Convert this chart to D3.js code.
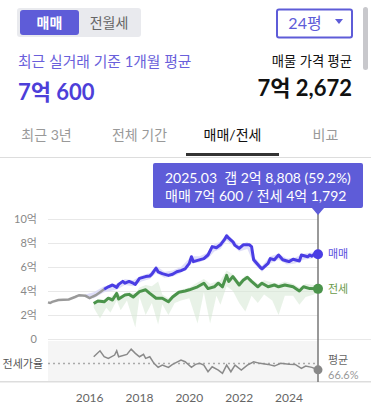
<!DOCTYPE html>
<html>
<head>
<meta charset="utf-8">
<script src="https://cdn.jsdelivr.net/npm/d3@7"></script>
<style>
body { margin: 0; background: #fff; }
svg { display: block; font-family: Lato, 'Noto Sans CJK KR', sans-serif; }
</style>
</head>
<body>
<div id="chart"></div>
<script>
// 매매 (sale) price, 억 원
var saleMonths = ["2016-08","2016-10","2016-12","2017-02","2017-03","2017-05","2017-06","2017-08","2017-10","2017-11",
	"2018-01","2018-04","2018-06","2018-07","2018-09","2018-10","2018-12","2019-03","2019-05","2019-07",
	"2019-09","2019-11","2020-01","2020-02","2020-03","2020-05","2020-08","2020-10","2020-12","2021-02",
	"2021-04","2021-06","2021-07","2021-08","2021-10","2021-11","2022-01","2022-03","2022-06","2022-07",
	"2022-08","2022-10","2022-11","2022-12","2023-03","2023-04","2023-06","2023-08","2023-10","2023-12",
	"2024-01","2024-03","2024-06","2024-07","2024-10","2024-11","2024-12","2025-01","2025-03"];
var saleValues = [4.15,4.35,4.5,4.3,4.55,4.8,4.65,4.8,4.65,4.55,
	5.05,5.2,5.25,5.4,5.9,5.6,5.45,5.3,5.4,5.6,
	5.7,5.85,6.3,6.85,6.45,6.55,6.7,7.0,7.7,7.6,
	7.85,8.3,8.6,8.4,8.1,7.8,7.55,7.85,7.85,7.7,
	6.6,6.2,6.0,5.85,6.3,6.7,6.6,7.0,6.6,6.5,
	6.45,6.65,6.5,7.0,6.85,7.0,6.9,7.05,7.06];

// earlier sale price (gray part)
var oldMonths = ["2014-05","2014-06","2014-07","2014-10","2015-03","2015-06","2015-08","2015-11","2016-01","2016-04","2016-06","2016-08"];
var oldValues = [3.05,3.0,3.1,3.25,3.3,3.5,3.65,3.6,3.4,3.65,3.9,4.15];

// 전세 (jeonse) price
var rentMonths = ["2016-03","2016-05","2016-08","2016-10","2016-12","2017-02","2017-03","2017-06","2017-08","2017-10",
	"2018-01","2018-04","2018-06","2018-09","2018-12","2019-03","2019-05","2019-08","2019-11","2020-01",
	"2020-05","2020-08","2020-10","2021-01","2021-03","2021-05","2021-07","2021-08","2021-10","2022-01",
	"2022-03","2022-05","2022-07","2022-10","2022-12","2023-03","2023-06","2023-08","2023-11","2024-03",
	"2024-06","2024-08","2024-11","2025-03"];
var rentValues = [2.95,3.17,3.1,3.4,3.25,3.8,3.33,3.67,3.72,3.5,
	3.95,4.1,3.8,3.4,3.4,3.1,3.5,3.9,4.0,4.1,
	4.35,4.65,4.2,4.35,4.65,4.35,5.3,4.8,5.2,4.5,
	4.9,5.15,4.8,4.35,4.65,4.35,4.5,4.35,4.5,4.35,
	4.0,4.35,4.2,4.18];

// 매매 range band
var saleBandMonths = ["2015-11","2016-03","2016-08","2017-02","2017-06","2017-10","2018-02","2018-06","2018-09","2019-01",
	"2019-05","2019-09","2020-02","2020-06","2020-10","2021-01","2021-04","2021-07","2021-10","2022-01",
	"2022-05","2022-08","2022-12","2023-04","2023-08","2023-12","2024-04","2024-08","2024-12","2025-03"];
var saleBandLo = [3.5,3.4,3.9,4.1,4.5,4.4,4.8,5.0,5.5,5.1,5.2,5.5,6.3,6.4,6.7,7.3,7.5,8.2,7.8,7.3,7.5,6.3,5.6,6.3,6.6,6.2,6.3,6.6,6.7,6.85];
var saleBandHi = [3.7,3.9,4.4,4.6,5.0,4.9,5.3,5.5,6.1,5.6,5.7,6.0,6.9,6.9,7.2,7.9,8.1,8.8,8.3,7.8,8.1,6.9,6.1,6.9,7.1,6.7,6.8,7.1,7.2,7.25];

// 전세 range band
var rentBandMonths = ["2016-03","2016-06","2016-09","2016-11","2017-02","2017-04","2017-07","2017-11","2018-01","2018-04",
	"2018-07","2018-10","2018-12","2019-03","2019-06","2019-09","2020-01","2020-05","2020-08","2020-11",
	"2021-02","2021-04","2021-07","2021-10","2022-01","2022-04","2022-07","2022-10","2023-01","2023-05",
	"2023-08","2023-11","2024-03","2024-06","2024-09","2025-01","2025-03"];
var rentBandLo = [2.6,1.7,2.6,2.2,3.2,2.4,3.2,0.95,3.5,2.0,3.0,1.2,2.9,2.0,3.0,3.2,3.4,1.3,3.9,1.3,3.6,2.85,4.4,4.0,3.0,2.3,3.6,3.0,3.7,3.2,2.0,3.6,3.6,2.85,3.5,3.7,3.9];
var rentBandHi = [3.1,3.3,3.3,3.5,3.9,3.6,3.9,3.8,4.3,4.5,4.4,4.8,3.7,3.4,3.8,4.1,4.3,4.7,5.0,4.6,4.8,4.9,5.7,5.4,4.8,5.3,5.0,4.6,4.9,4.7,4.6,4.8,4.6,4.3,4.6,4.5,4.4];

// 전세가율 (%)
var rateMonths = ["2016-03","2016-06","2016-08","2016-10","2017-01","2017-02","2017-03","2017-07","2017-09","2017-11",
	"2018-01","2018-03","2018-04","2018-06","2018-08","2018-10","2018-12","2019-03","2019-05","2019-09",
	"2019-11","2020-02","2020-04","2020-06","2020-08","2020-10","2020-12","2021-03","2021-05","2021-07",
	"2021-09","2021-11","2022-02","2022-05","2022-08","2022-11","2023-03","2023-06","2023-09","2024-01",
	"2024-04","2024-07","2024-09","2024-12","2025-03"];
var rateValues = [74.6,81.6,74.6,72.7,76.6,81.6,74.6,77.4,83.6,78.6,
	74.6,77.4,72.7,74.6,66.8,62.1,64.8,62.1,65.6,70.7,
	68.7,62.1,65.6,66.8,64.8,56.9,62.8,58.9,55.1,64.8,
	56.9,64.8,58.9,64.8,68.7,66.8,65.6,63.6,66.8,65.8,
	65.6,60.9,63.6,62.1,59.2];
var rateAvg = 66.6;

var yTicks = [0, 2, 4, 6, 8, 10];
var xTicks = ["2016-01","2018-01","2020-01","2022-01","2024-01"];

var W = 371, H = 405;
var purple = "#5e5cd8";
var parse = d3.timeParse("%Y-%m");

var svg = d3.select('#chart').append('svg')
	.attr('width', W)
	.attr('height', H);

// ---- header ----
svg.append('rect').attr('x', 17).attr('y', 8).attr('width', 124).attr('height', 29).attr('rx', 3).attr('fill', '#e9eaee');
svg.append('rect').attr('x', 20).attr('y', 10).attr('width', 59).attr('height', 25).attr('rx', 3).attr('fill', purple);
svg.append('text').attr('x', 49.5).attr('y', 28).attr('text-anchor', 'middle').attr('fill', '#fff')
	.attr('font-size', 14).attr('font-weight', 'bold').text('매매');
svg.append('text').attr('x', 109).attr('y', 28).attr('text-anchor', 'middle').attr('fill', '#666')
	.attr('font-size', 14).text('전월세');

svg.append('rect').attr('x', 277).attr('y', 9.5).attr('width', 75).attr('height', 28).attr('rx', 2)
	.attr('fill', '#fff').attr('stroke', purple).attr('stroke-width', 2);
svg.append('text').attr('x', 305).attr('y', 29).attr('text-anchor', 'middle').attr('fill', purple)
	.attr('font-size', 16).text('24평');
svg.append('path').attr('d', 'M335,19L343,19L339,24Z').attr('fill', purple);

svg.append('rect').attr('x', 363).attr('y', 7).attr('width', 5).attr('height', 63).attr('rx', 2.5).attr('fill', '#c8c8cc');

svg.append('text').attr('x', 18).attr('y', 67).attr('fill', '#6a5fdb').attr('font-size', 14.8).text('최근 실거래 기준 1개월 평균');
svg.append('text').attr('x', 18).attr('y', 100).attr('fill', '#4d3fd9').attr('font-size', 22).attr('font-weight', 'bold').text('7억 600');
svg.append('text').attr('x', 352).attr('y', 66).attr('text-anchor', 'end').attr('fill', '#111').attr('font-size', 13.3).text('매물 가격 평균');
svg.append('text').attr('x', 352).attr('y', 96).attr('text-anchor', 'end').attr('fill', '#111').attr('font-size', 22).attr('font-weight', 'bold').text('7억 2,672');

// tabs
var tabs = ['최근 3년', '전체 기간', '매매/전세', '비교'];
svg.selectAll('.tab')
	.data(tabs)
	.enter()
	.append('text')
	.attr('class', 'tab')
	.attr('x', function(d, i){ return i * 93 + 46.5; })
	.attr('y', 140)
	.attr('text-anchor', 'middle')
	.attr('font-size', 14)
	.attr('fill', function(d, i){ return i === 2 ? '#111' : '#999'; })
	.text(function(d){ return d; });
svg.append('rect').attr('x', 0).attr('y', 157).attr('width', W).attr('height', 1).attr('fill', '#ddd');
svg.append('rect').attr('x', 186).attr('y', 153).attr('width', 93).attr('height', 3).attr('fill', '#333');

// ---- main chart ----
var x = d3.scaleTime()
	.domain([parse("2014-05"), parse("2025-03")])
	.range([48, 318]);
var y = d3.scaleLinear()
	.domain([0, 10])
	.range([339, 219]);

function pairs(months, vals) {
	return months.map(function(m, i){ return { date: parse(m), v: vals[i] }; });
}
function bands(months, lo, hi) {
	return months.map(function(m, i){ return { date: parse(m), lo: lo[i], hi: hi[i] }; });
}

var yAxis = svg.append('g')
	.attr('transform', 'translate(48,0)')
	.call(d3.axisLeft(y).tickValues(yTicks).tickSize(-270)
		.tickFormat(function(d){ return d === 0 ? '0' : d + '억'; }));
yAxis.select('.domain').remove();
yAxis.selectAll('line').attr('stroke', '#e8e8e8');
yAxis.selectAll('text').attr('x', -11).attr('fill', '#888').attr('font-size', 11)
	.attr('font-family', "Lato, 'Noto Sans CJK KR', sans-serif");

var area = d3.area()
	.x(function(d){ return x(d.date); })
	.y0(function(d){ return y(d.lo); })
	.y1(function(d){ return y(d.hi); });
var line = d3.line()
	.x(function(d){ return x(d.date); })
	.y(function(d){ return y(d.v); });

svg.append('path').datum(bands(rentBandMonths, rentBandLo, rentBandHi))
	.attr('d', area).attr('fill', '#d5e8d3').attr('opacity', 0.55);
svg.append('path').datum(bands(saleBandMonths, saleBandLo, saleBandHi))
	.attr('d', area).attr('fill', '#dcdaf8').attr('opacity', 0.9);

svg.append('path').datum(pairs(oldMonths, oldValues))
	.attr('d', line).attr('fill', 'none').attr('stroke', '#9a9a9a').attr('stroke-width', 2.5);
svg.append('path').datum(pairs(rentMonths, rentValues))
	.attr('d', line).attr('fill', 'none').attr('stroke', '#4b944b').attr('stroke-width', 3).attr('stroke-linejoin', 'round');
svg.append('path').datum(pairs(saleMonths, saleValues))
	.attr('d', line).attr('fill', 'none').attr('stroke', '#4a3de4').attr('stroke-width', 3).attr('stroke-linejoin', 'round');

// ---- 전세가율 panel ----
var yr = d3.scaleLinear().domain([46, 92]).range([381, 342]);
svg.append('rect').attr('x', 48).attr('y', 341).attr('width', 270).attr('height', 40).attr('fill', '#f5f5f5');
svg.append('rect').attr('x', 48).attr('y', 339).attr('width', W - 48).attr('height', 1).attr('fill', '#e8e8e8');
svg.append('rect').attr('x', 0).attr('y', 381).attr('width', W).attr('height', 1.5).attr('fill', '#ddd');

svg.append('line')
	.attr('x1', 48).attr('x2', 318)
	.attr('y1', yr(rateAvg)).attr('y2', yr(rateAvg))
	.attr('stroke', '#aaa').attr('stroke-width', 1.5).attr('stroke-dasharray', '2,3');
var rateLine = d3.line()
	.x(function(d){ return x(d.date); })
	.y(function(d){ return yr(d.v); });
var rateData = pairs(rateMonths, rateValues);
svg.append('path').datum(rateData)
	.attr('d', rateLine).attr('fill', 'none').attr('stroke', '#8a8a8a').attr('stroke-width', 1.5);

svg.append('text').attr('x', 43).attr('y', 368).attr('text-anchor', 'end').attr('fill', '#555')
	.attr('font-size', 11).text('전세가율');

// x axis labels
svg.selectAll('.xlab')
	.data(xTicks)
	.enter()
	.append('text')
	.attr('class', 'xlab')
	.attr('x', function(d){ return x(parse(d)); })
	.attr('y', 402)
	.attr('text-anchor', 'middle')
	.attr('fill', '#666')
	.attr('font-size', 12)
	.text(function(d){ return d.slice(0, 4); });

// ---- cursor + tooltip ----
var last = parse("2025-03");
var cx = x(last);
svg.append('line').attr('x1', cx).attr('x2', cx).attr('y1', 208).attr('y2', 382)
	.attr('stroke', '#777').attr('stroke-width', 1.5);

var lastSale = saleValues[saleValues.length - 1];
var lastRent = rentValues[rentValues.length - 1];
var lastRate = rateValues[rateValues.length - 1];

svg.append('circle').attr('cx', cx).attr('cy', y(lastSale)).attr('r', 5).attr('fill', '#4a3de4');
svg.append('circle').attr('cx', cx).attr('cy', y(lastRent)).attr('r', 5).attr('fill', '#4b944b');
svg.append('circle').attr('cx', cx).attr('cy', yr(lastRate)).attr('r', 4.5).attr('fill', '#888');

svg.append('text').attr('x', 328).attr('y', y(lastSale) + 4).attr('fill', '#5a4fe0').attr('font-size', 11).text('매매');
svg.append('text').attr('x', 328).attr('y', y(lastRent) + 4).attr('fill', '#6a9a4a').attr('font-size', 11).text('전세');
svg.append('text').attr('x', 328).attr('y', 364).attr('fill', '#666').attr('font-size', 11).text('평균');
svg.append('text').attr('x', 328).attr('y', 379).attr('fill', '#999').attr('font-size', 11).text(rateAvg + '%');

svg.append('rect').attr('x', 153).attr('y', 163).attr('width', 210).attr('height', 45).attr('rx', 2).attr('fill', purple);
svg.append('path').attr('d', 'M' + (cx - 6.5) + ',207.5L' + (cx + 6.5) + ',207.5L' + cx + ',215Z').attr('fill', purple);
svg.append('text').attr('x', 165).attr('y', 182.5).attr('fill', '#fff').attr('font-size', 14)
	.style('white-space', 'pre')
	.text('2025.03  갭 2억 8,808 (59.2%)');
svg.append('text').attr('x', 165).attr('y', 201).attr('fill', '#fff').attr('font-size', 14)
	.text('매매 7억 600 / 전세 4억 1,792');
</script>
</body>
</html>
